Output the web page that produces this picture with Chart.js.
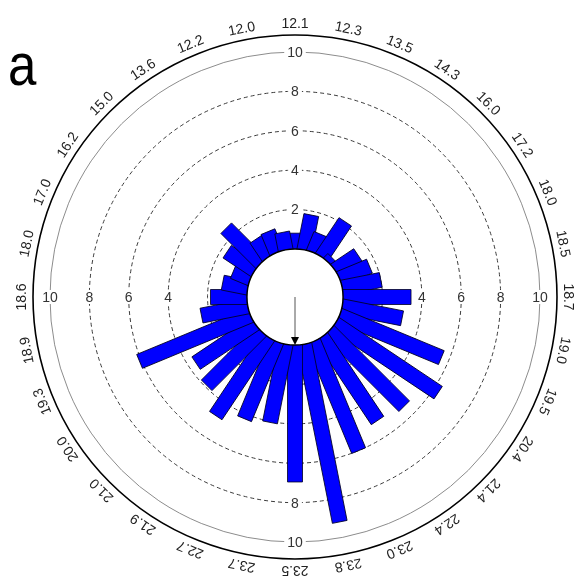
<!DOCTYPE html>
<html>
<head>
<meta charset="utf-8">
<script src="https://cdn.jsdelivr.net/npm/chart.js@4.4.1/dist/chart.umd.min.js"></script>
<style>
  html, body { margin: 0; padding: 0; background: #ffffff; }
  canvas { display: block; }
</style>
</head>
<body>
<canvas id="roseChart" width="577" height="588"></canvas>
<script>
// ============================================
// Data (clockwise from top)
// ============================================
const directionLabels = [
  "12.1", "12.3", "13.5", "14.3", "16.0", "17.2", "18.0", "18.5",
  "18.7", "19.0", "19.5", "20.4", "21.4", "22.4", "23.0", "23.8",
  "23.5", "23.7", "22.7", "21.9", "21.0", "20.0", "19.3", "18.9",
  "18.6", "18.0", "17.0", "16.2", "15.0", "13.6", "12.2", "12.0",
];
const barValues = [
  0.8, 1.8, 1.0, 2.15, 0.3, 1.4, 1.65, 2.0,
  3.45, 3.1, 5.6, 6.3, 5.4, 5.1, 6.0, 9.2,
  6.95, 4.05, 4.25, 4.8, 3.9, 3.6, 6.1, 2.4,
  1.85, 1.3, 0.95, 1.7, 2.5, 1.1, 1.15, 0.9,
];
const gridValues = [2, 4, 6, 8, 10];
const topTickLabels = [2, 4, 6, 8, 10];
const leftTickLabels = [4, 6, 8, 10];
const rightTickLabels = [4, 6, 8, 10];
const bottomTickLabels = [8, 10];
const arrowDirection = 180; // degrees clockwise from top
const panelLabel = "a";

// radial range: 0 sits on the hole edge, max is the outer ring
const rMin = -2.44;
const rMax = 10.86;
const barWidth = 15;
const font = "'Liberation Sans', Arial, sans-serif";

// ============================================
// Plugin: bars drawn as rectangles, hole, arrow, labels
// ============================================
const rosePlugin = {
  id: "rose",
  beforeDatasetsDraw(chart) {
    // tick labels on the four axes (under the bars)
    const scale = chart.scales.r;
    const ctx = chart.ctx;
    const cx = scale.xCenter, cy = scale.yCenter;
    ctx.save();
    ctx.font = "14px " + font;
    ctx.textAlign = "center";
    ctx.textBaseline = "middle";
    const put = (txt, x, y) => {
      const w = ctx.measureText(txt).width;
      ctx.fillStyle = "#ffffff";
      ctx.fillRect(x - w / 2 - 3, y - 7, w + 6, 14);
      ctx.fillStyle = "#333333";
      ctx.fillText(txt, x, y + 1);
    };
    topTickLabels.forEach((v) => put(String(v), cx, cy - scale.getDistanceFromCenterForValue(v)));
    bottomTickLabels.forEach((v) => put(String(v), cx, cy + scale.getDistanceFromCenterForValue(v)));
    leftTickLabels.forEach((v) => put(String(v), cx - scale.getDistanceFromCenterForValue(v), cy));
    rightTickLabels.forEach((v) => put(String(v), cx + scale.getDistanceFromCenterForValue(v), cy));
    ctx.restore();
  },
  beforeDatasetDraw(chart, args) {
    const ctx = chart.ctx;
    ctx.save();
    args.meta.data.forEach((arc) => {
      const p = arc.getProps(["x", "y", "startAngle", "endAngle", "outerRadius"], true);
      const mid = (p.startAngle + p.endAngle) / 2;
      ctx.save();
      ctx.translate(p.x, p.y);
      ctx.rotate(mid);
      ctx.beginPath();
      ctx.rect(0, -barWidth / 2, p.outerRadius, barWidth);
      ctx.fillStyle = "#0000ff";
      ctx.fill();
      ctx.lineWidth = 0.8;
      ctx.strokeStyle = "#000022";
      ctx.stroke();
      ctx.restore();
    });
    ctx.restore();
    return false; // skip the default wedges
  },
  afterDatasetsDraw(chart) {
    const scale = chart.scales.r;
    const ctx = chart.ctx;
    const cx = scale.xCenter, cy = scale.yCenter;
    const hole = scale.getDistanceFromCenterForValue(0);
    ctx.save();
    // white hole with black edge
    ctx.beginPath();
    ctx.arc(cx, cy, hole, 0, Math.PI * 2);
    ctx.fillStyle = "#ffffff";
    ctx.fill();
    ctx.lineWidth = 1.5;
    ctx.strokeStyle = "#000000";
    ctx.stroke();
    // arrow
    const a = (arrowDirection - 90) * Math.PI / 180;
    ctx.translate(cx, cy);
    ctx.rotate(a);
    ctx.beginPath();
    ctx.moveTo(0, 0);
    ctx.lineTo(hole - 7, 0);
    ctx.lineWidth = 1;
    ctx.strokeStyle = "#555555";
    ctx.stroke();
    ctx.beginPath();
    ctx.moveTo(hole, 0);
    ctx.lineTo(hole - 8, -4);
    ctx.lineTo(hole - 8, 4);
    ctx.closePath();
    ctx.fillStyle = "#000000";
    ctx.fill();
    ctx.restore();
  },
  afterDraw(chart) {
    const scale = chart.scales.r;
    const ctx = chart.ctx;
    const cx = scale.xCenter, cy = scale.yCenter;
    const rLabel = scale.getDistanceFromCenterForValue(rMax) + 11;
    const meta = chart.getDatasetMeta(0);
    ctx.save();
    ctx.font = "14px " + font;
    ctx.fillStyle = "#222222";
    ctx.textAlign = "center";
    ctx.textBaseline = "middle";
    meta.data.forEach((arc, i) => {
      const p = arc.getProps(["startAngle", "endAngle"], true);
      const mid = (p.startAngle + p.endAngle) / 2;
      ctx.save();
      ctx.translate(cx + Math.cos(mid) * rLabel, cy + Math.sin(mid) * rLabel);
      ctx.rotate(mid + Math.PI / 2);
      ctx.fillText(directionLabels[i], 0, 0);
      ctx.restore();
    });
    // panel letter
    ctx.save();
    ctx.translate(8, 85);
    ctx.scale(0.85, 1);
    ctx.font = "60px " + font;
    ctx.textAlign = "left";
    ctx.textBaseline = "alphabetic";
    ctx.fillStyle = "#000000";
    ctx.fillText(panelLabel, 0, 0);
    ctx.restore();
    ctx.restore();
  },
};

// ============================================
// Chart
// ============================================
const ctx = document.getElementById("roseChart").getContext("2d");
new Chart(ctx, {
  type: "polarArea",
  data: {
    labels: directionLabels,
    datasets: [{ data: barValues, backgroundColor: "#0000ff" }],
  },
  options: {
    responsive: false,
    devicePixelRatio: 1,
    animation: false,
    layout: { padding: { left: 33, right: 20, top: 35, bottom: 29 } },
    plugins: { legend: { display: false }, tooltip: { enabled: false } },
    scales: {
      r: {
        min: rMin,
        max: rMax,
        startAngle: -180 / directionLabels.length,
        afterBuildTicks: (scale) => {
          scale.ticks = gridValues.concat([rMax]).map((v) => ({ value: v }));
        },
        ticks: { display: false },
        pointLabels: { display: false },
        angleLines: { display: false },
        grid: {
          circular: true,
          color: (c) => (c.tick.value > 10 ? "#000000" : c.tick.value === 10 ? "#8c8c8c" : "#3a3a3a"),
          lineWidth: (c) => (c.tick.value > 10 ? 1.6 : 1),
        },
        border: { dash: (c) => (c.tick.value < 10 ? [4, 3] : []) },
      },
    },
  },
  plugins: [rosePlugin],
});
</script>
</body>
</html>
